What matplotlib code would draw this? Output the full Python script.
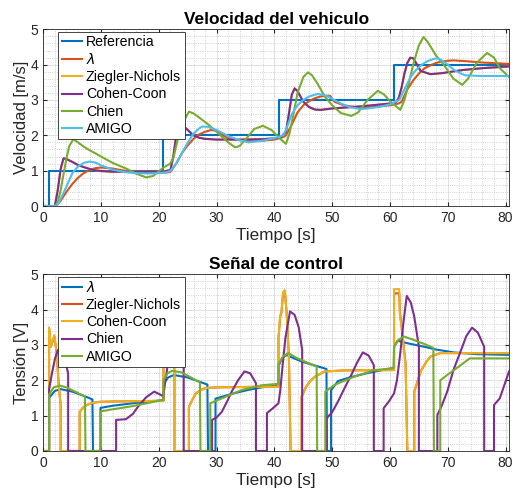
import matplotlib
matplotlib.use("Agg")
import matplotlib.pyplot as plt
from matplotlib.ticker import MultipleLocator

plt.rcParams['font.family'] = ['Liberation Sans', 'DejaVu Sans']

# ---------------- data: vehicle speed (top) ----------------
ref_t = [0, 1, 1, 20.8, 20.8, 40.75, 40.75, 60.7, 60.7, 80.6]
ref_v = [0, 0, 1, 1, 2, 2, 3, 3, 4, 4]

lam_t = [0, 2, 2.5, 3, 4, 5, 6, 7, 8, 9, 10, 12, 14, 16, 18, 20, 21.5, 22, 23, 24, 25, 26, 27, 28,
         29, 30, 31, 32, 34, 36, 38, 40, 41.5, 42, 43, 44, 45, 46, 47, 48, 49, 49.6, 50.4, 52, 54,
         56, 58, 60, 61.5, 62, 63, 64, 65, 66, 67, 68, 69, 70, 71, 73, 76, 80.6]
lam_v = [0, 0, 0.05, 0.15, 0.4, 0.62, 0.8, 0.93, 1.02, 1.07, 1.09, 1.06, 1.0, 0.97, 0.95, 0.94, 0.95,
         0.97, 1.2, 1.5, 1.72, 1.9, 2.03, 2.1, 2.15, 2.13, 2.0, 1.92, 1.86, 1.84, 1.85, 1.88, 1.95,
         2.0, 2.3, 2.65, 2.85, 2.97, 3.05, 3.1, 3.12, 3.12, 2.95, 2.85, 2.8, 2.8, 2.82, 2.85, 2.9,
         2.95, 3.3, 3.55, 3.75, 3.9, 3.98, 4.05, 4.09, 4.11, 4.12, 4.1, 4.06, 4.02]

cc_t = [0, 2, 2.5, 3, 3.5, 4, 5, 6, 7, 8, 9, 10, 12, 15, 18, 21, 22, 22.5, 23, 23.5, 24, 25, 26, 27,
        28, 30, 34, 38, 41, 42, 42.5, 43, 43.5, 44, 45, 46, 47, 48, 50, 55, 60, 61, 61.5, 62, 62.5,
        63, 63.5, 64, 64.5, 65.3, 67, 69, 72.7, 76, 80.6]
cc_v = [0, 0, 0.45, 1.05, 1.35, 1.33, 1.25, 1.16, 1.1, 1.05, 1.01, 0.99, 0.97, 0.97, 0.97, 0.98,
        1.02, 1.4, 2.0, 2.3, 2.3, 2.15, 2.0, 1.93, 1.9, 1.88, 1.88, 1.89, 1.93, 2.1, 2.6, 3.15,
        3.33, 3.25, 2.95, 2.8, 2.73, 2.72, 2.76, 2.82, 2.9, 2.93, 3.05, 3.35, 3.75, 4.05, 4.2, 4.18,
        4.05, 3.82, 3.73, 3.76, 3.85, 3.9, 3.95]

# Ziegler-Nichols lies under Cohen-Coon in the picture
zn_t = [0, 2, 2.5, 3, 3.5, 4, 5, 6, 7, 8, 9, 10, 12, 15, 18, 21, 22, 22.5, 23, 23.5, 24, 25, 26, 27,
        28, 30, 34, 38, 41, 42, 42.5, 43, 43.5, 44, 45, 46, 47, 48, 50, 55, 60, 61, 61.5, 62, 62.5,
        63, 63.5, 64, 64.5, 65.3, 67, 69, 72.7, 76, 80.6]
zn_v = [0, 0, 0.45, 1.05, 1.34, 1.33, 1.25, 1.16, 1.1, 1.05, 1.01, 0.99, 0.97, 0.97, 0.97, 0.98,
        1.02, 1.4, 2.0, 2.29, 2.3, 2.15, 2.0, 1.93, 1.9, 1.88, 1.88, 1.89, 1.93, 2.1, 2.6, 3.15,
        3.32, 3.25, 2.95, 2.8, 2.73, 2.72, 2.76, 2.82, 2.9, 2.93, 3.05, 3.35, 3.75, 4.05, 4.19, 4.18,
        4.05, 3.82, 3.73, 3.76, 3.85, 3.9, 3.95]

chien_t = [0, 2, 2.5, 3, 3.5, 4, 4.5, 5.2, 6, 7, 8, 10, 12, 14.6, 16, 17.8, 19, 20.9, 21.9, 22.5,
           23, 23.5, 24.3, 25.2, 26, 27, 28.6, 30, 30.9, 32, 33.2, 34, 35.5, 36.5, 38, 39.5, 41,
           42, 42.6, 43.3, 44, 45, 45.8, 46.5, 47.5, 48.7, 50, 51.5, 53.3, 54.5, 56.1, 57.9, 59,
           60.1, 61.8, 62.5, 63.3, 64, 65, 65.8, 66.5, 68, 69.3, 71, 72.5, 73.5, 75, 76.8, 78, 79,
           80.6]
chien_v = [0, 0, 0.1, 0.45, 0.9, 1.35, 1.7, 1.89, 1.8, 1.68, 1.58, 1.4, 1.22, 1.04, 0.92, 0.81,
           0.85, 1.1, 1.19, 1.35, 1.7, 2.05, 2.4, 2.67, 2.62, 2.5, 2.3, 2.1, 1.96, 1.8, 1.66, 1.7,
           1.98, 2.18, 2.27, 2.15, 1.9, 1.76, 2.05, 2.6, 3.2, 3.65, 3.78, 3.7, 3.45, 3.1, 2.85,
           2.63, 2.55, 2.65, 3.0, 3.26, 3.15, 2.95, 2.72, 3.0, 3.5, 4.0, 4.55, 4.78, 4.65, 4.25,
           4.0, 3.6, 3.43, 3.6, 4.05, 4.33, 4.2, 3.9, 3.65]

amigo_t = [0, 2, 2.5, 3, 4, 5, 6, 7, 8, 9, 10, 12, 14, 16, 18, 20, 21.5, 22, 23, 24, 25, 26, 27,
           27.5, 28.5, 30, 32, 34, 35.5, 38, 40.7, 41.5, 42, 43, 44, 45, 46, 47.5, 49, 51.5, 53, 55,
           58, 60.1, 61.6, 62.5, 63.6, 64.5, 65.5, 66.5, 67.5, 68.2, 69, 70, 71, 72.2, 73, 75.6,
           80.6]
amigo_v = [0, 0, 0.05, 0.2, 0.55, 0.92, 1.12, 1.22, 1.26, 1.23, 1.15, 1.03, 0.96, 0.93, 0.92,
           0.93, 0.96, 1.0, 1.2, 1.5, 1.8, 2.05, 2.2, 2.25, 2.24, 2.15, 1.98, 1.86, 1.8, 1.85, 1.95,
           2.0, 2.15, 2.6, 2.85, 3.0, 3.1, 3.17, 3.12, 2.9, 2.8, 2.74, 2.8, 2.88, 3.0, 3.3, 3.66,
           3.85, 4.0, 4.1, 4.16, 4.18, 4.12, 4.0, 3.86, 3.75, 3.7, 3.68, 3.68]

# ---------------- data: control signal (bottom) ----------------
u_lam_t = [0, 1.0, 1.0, 2, 3, 5, 7, 8.5, 8.6, 9.9, 9.9, 12, 16, 20.8, 20.8, 21.6, 22.6, 25, 28.4,
           28.5, 29.8, 29.8, 31, 33.2, 35.5, 37.8, 40.7, 40.7, 41.3, 42.1, 43, 44.7, 47, 49.0,
           49.1, 49.8, 49.8, 51, 53, 56, 59.6, 60.7, 60.7, 61.3, 63, 65.9, 68, 71, 75, 80.6]
u_lam_v = [0, 0, 1.5, 1.7, 1.75, 1.68, 1.56, 1.46, 0, 0, 1.22, 1.28, 1.36, 1.44, 1.9, 2.08, 2.15,
           2.08, 1.88, 0, 0, 1.48, 1.54, 1.64, 1.73, 1.8, 1.86, 2.4, 2.62, 2.72, 2.65, 2.53, 2.42,
           2.32, 0, 0, 1.72, 1.98, 2.08, 2.2, 2.32, 2.35, 2.95, 3.12, 3.05, 2.95, 2.87, 2.79, 2.74,
           2.72]

u_cc_t = [0, 1.0, 1.0, 1.3, 1.9, 2.3, 2.7, 3.0, 3.0, 6.3, 6.3, 6.8, 7.5, 8.5, 9.7, 12, 16, 20.8,
          20.8, 21.3, 21.8, 22.3, 22.7, 22.7, 25.2, 25.2, 25.8, 26.4, 27.2, 28.1, 30, 34, 40.7,
          40.7, 41.0, 41.2, 41.5, 41.8, 42.1, 42.5, 42.8, 44.7, 44.7, 45.5, 46.2, 47, 48.7, 52,
          60.7, 60.7, 61.6, 61.7, 62.2, 62.7, 63.0, 64.2, 64.2, 65.3, 66.2, 67, 68.7, 80.6]
u_cc_v = [0, 0, 3.5, 2.95, 3.28, 2.8, 1.8, 1.3, 0, 0, 1.1, 1.22, 1.3, 1.36, 1.39, 1.4, 1.41, 1.42,
          3.0, 3.5, 3.3, 2.7, 2.3, 0, 0, 1.25, 1.45, 1.63, 1.72, 1.78, 1.8, 1.81, 1.82, 3.2, 3.85,
          3.9, 4.5, 4.55, 3.9, 2.67, 0, 0, 1.54, 1.82, 1.98, 2.1, 2.25, 2.28, 2.29, 4.58, 4.58, 3.9,
          3.2, 2.43, 0, 0, 1.68, 2.25, 2.5, 2.67, 2.77, 2.77]

u_zn_t = [0, 1.0, 1.0, 1.3, 1.9, 2.3, 2.7, 3.0, 3.0, 6.3, 6.3, 6.8, 7.5, 8.5, 9.7, 12, 16, 20.8,
          20.8, 21.3, 21.8, 22.3, 22.7, 22.7, 25.2, 25.2, 25.8, 26.4, 27.2, 28.1, 30, 34, 40.7,
          40.7, 41.0, 41.2, 41.5, 41.8, 42.1, 42.5, 42.8, 44.7, 44.7, 45.5, 46.2, 47, 48.7, 52,
          60.7, 60.7, 61.6, 61.7, 62.2, 62.7, 63.0, 64.2, 64.2, 65.3, 66.2, 67, 68.7, 80.6]
u_zn_v = [0, 0, 3.45, 2.95, 3.25, 2.8, 1.8, 1.3, 0, 0, 1.1, 1.22, 1.3, 1.36, 1.39, 1.4, 1.41, 1.42,
          3.0, 3.45, 3.3, 2.7, 2.3, 0, 0, 1.25, 1.45, 1.63, 1.72, 1.78, 1.8, 1.81, 1.82, 3.2, 3.8,
          3.9, 4.45, 4.5, 3.95, 2.72, 0, 0, 1.54, 1.82, 1.98, 2.1, 2.25, 2.28, 2.29, 4.45, 4.47,
          3.95, 3.25, 2.47, 0, 0, 1.68, 2.25, 2.5, 2.67, 2.77, 2.77]

u_chien_t = [0, 1.0, 1.0, 1.5, 2.0, 2.5, 3.0, 3.5, 4.0, 4.3, 4.3, 12.6, 12.6, 14.3, 15.5, 16.6,
             17.8, 19.2, 20.2, 20.8, 20.8, 21.5, 22.3, 23.0, 23.7, 24.3, 24.3, 29.2, 29.2, 30.0,
             30.9, 31.8, 32.6, 33.7, 34.8, 35.8, 36.8, 36.8, 38.7, 38.7, 39.8, 40.7, 41.0, 41.4,
             41.9, 42.7, 43.5, 44.2, 44.8, 44.8, 49.0, 49.0, 50.0, 51.0, 52.2, 53.3, 54.3, 55.3,
             56.3, 57.2, 57.2, 58.9, 58.9, 59.8, 60.7, 61.2, 61.8, 62.3, 62.9, 63.6, 64.2, 65.0,
             65.0, 68.2, 68.2, 69.0, 69.9, 71.0, 72.2, 73.2, 74.2, 75.2, 76.3, 76.3, 78.0, 78.0,
             79.0, 80.6]
u_chien_v = [0, 0, 1.75, 2.2, 2.6, 2.85, 2.9, 2.7, 2.4, 2.2, 0, 0, 0.88, 0.9, 1.05, 1.3, 1.52,
             1.68, 1.6, 1.54, 1.6, 2.4, 3.2, 3.5, 3.3, 2.7, 0, 0, 0.88, 0.95, 1.11, 1.4, 1.68, 2.0,
             2.25, 2.2, 1.92, 0, 0, 1.07, 1.22, 1.35, 1.7, 2.4, 3.2, 3.95, 3.85, 3.5, 2.86, 0, 0,
             0.92, 1.1, 1.4, 1.8, 2.15, 2.5, 2.79, 2.7, 2.43, 0, 0, 1.21, 1.4, 1.63, 2.0, 2.8, 3.6,
             4.39, 4.2, 3.8, 2.95, 0, 0, 1.02, 1.3, 1.68, 2.3, 2.81, 3.25, 3.49, 3.35, 2.95, 0, 0,
             1.3, 1.49, 2.25]

u_amigo_t = [0, 1.0, 1.0, 1.8, 2.9, 4, 5.5, 7.2, 7.3, 9.9, 9.9, 12, 15.5, 20.8, 20.8, 21.5, 22.3,
             24, 27.1, 27.2, 28.9, 28.9, 30.9, 32.5, 34.4, 37.8, 40.7, 40.7, 41.5, 42.4, 44, 46,
             47.3, 47.4, 48.8, 48.8, 50.4, 52, 53.8, 57.3, 60.6, 60.7, 61.5, 62.4, 64, 65.9, 67.5,
             67.6, 68.7, 68.7, 69.9, 72, 73.8, 80.6]
u_amigo_v = [0, 0, 1.6, 1.8, 1.85, 1.8, 1.68, 1.54, 0, 0, 1.12, 1.18, 1.27, 1.45, 2.0, 2.2, 2.27,
             2.22, 1.94, 0, 0, 1.35, 1.49, 1.6, 1.73, 1.86, 1.9, 2.45, 2.68, 2.77, 2.62, 2.48, 2.39,
             0, 0, 1.68, 1.87, 1.98, 2.1, 2.29, 2.34, 2.95, 3.15, 3.24, 3.15, 3.03, 2.92, 0, 0, 2.0,
             2.15, 2.4, 2.62, 2.62]

# MATLAB default colour order
c_blue, c_orange, c_yellow = '#0072BD', '#D95319', '#EDB120'
c_purple, c_green, c_cyan = '#7E2F8E', '#77AC30', '#4DBEEE'

fig = plt.figure(figsize=(5.15, 4.95), dpi=100)
ax1 = fig.add_axes([0.0841, 0.5838, 0.9043, 0.357])
ax2 = fig.add_axes([0.0841, 0.0889, 0.9043, 0.357])

lw = 1.5
ax1.plot(ref_t, ref_v, color=c_blue, lw=lw, label='Referencia')
ax1.plot(lam_t, lam_v, color=c_orange, lw=lw, label=r'$\lambda$')
ax1.plot(zn_t, zn_v, color=c_yellow, lw=lw, label='Ziegler-Nichols')
ax1.plot(cc_t, cc_v, color=c_purple, lw=lw, label='Cohen-Coon')
ax1.plot(chien_t, chien_v, color=c_green, lw=lw, label='Chien')
ax1.plot(amigo_t, amigo_v, color=c_cyan, lw=lw, label='AMIGO')

ax2.plot(u_lam_t, u_lam_v, color=c_blue, lw=lw, label=r'$\lambda$')
ax2.plot(u_zn_t, u_zn_v, color=c_orange, lw=lw, label='Ziegler-Nichols')
ax2.plot(u_cc_t, u_cc_v, color=c_yellow, lw=lw, label='Cohen-Coon')
ax2.plot(u_chien_t, u_chien_v, color=c_purple, lw=lw, label='Chien')
ax2.plot(u_amigo_t, u_amigo_v, color=c_green, lw=lw, label='AMIGO')

dark = '#262626'
for ax, title, ylab in [(ax1, 'Velocidad del vehiculo', 'Velocidad [m/s]'),
                        (ax2, 'Señal de control', 'Tensión [V]')]:
    ax.set_xlim(0, 80.6)
    ax.set_ylim(0, 5)
    ax.xaxis.set_major_locator(MultipleLocator(10))
    ax.xaxis.set_minor_locator(MultipleLocator(2))
    ax.yaxis.set_major_locator(MultipleLocator(1))
    ax.yaxis.set_minor_locator(MultipleLocator(0.2))
    ax.grid(which='major', color='#dadada', lw=0.6)
    ax.grid(which='minor', color='#c4c4c4', lw=0.6, ls=':')
    ax.set_axisbelow(True)
    ax.tick_params(which='both', direction='in', top=True, right=True,
                   labelsize=10, colors=dark, length=3)
    ax.tick_params(which='minor', length=0)
    for s in ax.spines.values():
        s.set_color(dark)
        s.set_linewidth(0.6)
    ax.set_title(title, fontsize=12.4, fontweight='bold', pad=4)
    ax.set_xlabel('Tiempo [s]', fontsize=12.3, color=dark, labelpad=2)
    ax.set_ylabel(ylab, fontsize=12, color=dark, labelpad=1)
    leg = ax.legend(loc='upper left', bbox_to_anchor=(0.032, 0.987), borderaxespad=0,
                    fontsize=10.2, fancybox=False, framealpha=1, edgecolor=dark,
                    handlelength=1.45, handletextpad=0.25, borderpad=0.25, labelspacing=0.22)
    leg.get_frame().set_linewidth(0.6)

plt.savefig('out.png', dpi=100)
